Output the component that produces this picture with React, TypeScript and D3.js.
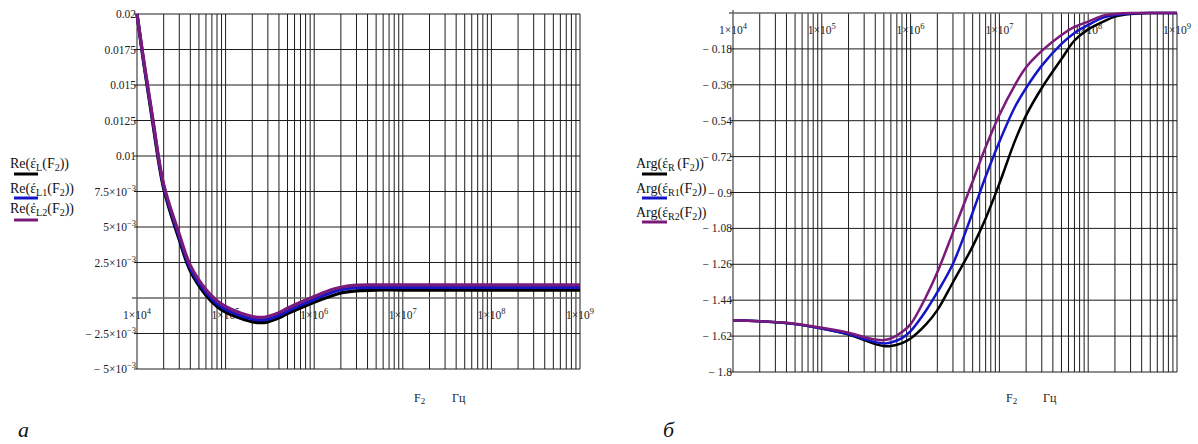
import React from "react";
import * as d3 from "d3";

// ---------- data: left chart (Re) ----------
const freqL = [1e4, 1.2e4, 1.5e4, 2e4, 3e4, 4e4, 6e4, 8e4, 1e5, 1.5e5, 2e5, 2.5e5, 3e5, 4e5, 5e5, 7e5, 1e6, 1.5e6, 2e6, 3e6, 5e6, 1e7, 1e8, 1e9];
const reL = [0.02, 0.0164, 0.0124, 0.0077, 0.0041, 0.0019, 0.0002, -0.0006, -0.001, -0.00145, -0.00168, -0.00174, -0.00168, -0.0014, -0.0011, -0.0007, -0.0003, 0.0001, 0.00035, 0.0005, 0.00056, 0.00056, 0.00056, 0.00056];
const reL1 = [0.02, 0.0165, 0.0126, 0.0079, 0.0043, 0.0021, 0.0004, -0.0004, -0.0008, -0.00125, -0.00148, -0.00155, -0.0015, -0.00122, -0.00092, -0.0005, -0.0001, 0.00035, 0.00058, 0.00072, 0.00075, 0.00075, 0.00075, 0.00075];
const reL2 = [0.02, 0.0166, 0.0127, 0.008, 0.0045, 0.0023, 0.0006, -0.0002, -0.0006, -0.00108, -0.0013, -0.00137, -0.0013, -0.00103, -0.00072, -0.0003, 0.0001, 0.00055, 0.00076, 0.0009, 0.00092, 0.00092, 0.00092, 0.00092];
const yTicksL = [0.02, 0.0175, 0.015, 0.0125, 0.01, 0.0075, 0.005, 0.0025, 0, -0.0025, -0.005];
const yLabelsL = ["0.02", "0.0175", "0.015", "0.0125", "0.01", "7.5×10|−3", "5×10|−3", "2.5×10|−3", "", "− 2.5×10|−3", "− 5×10|−3"];

// ---------- data: right chart (Arg) ----------
const freqR = [1e4, 2e4, 5e4, 1e5, 2e5, 3e5, 4e5, 5e5, 6e5, 8e5, 1e6, 1.5e6, 2e6, 3e6, 5e6, 7e6, 1e7, 1.5e7, 2e7, 3e7, 5e7, 7e7, 1e8, 1.5e8, 2e8, 3e8, 5e8, 1e9];
const argR = [-1.54, -1.545, -1.56, -1.582, -1.612, -1.64, -1.66, -1.67, -1.67, -1.655, -1.632, -1.56, -1.49, -1.35, -1.17, -1.03, -0.855, -0.64, -0.513, -0.376, -0.231, -0.138, -0.082, -0.042, -0.018, -0.005, 0, 0];
const argR1 = [-1.54, -1.545, -1.56, -1.582, -1.61, -1.635, -1.65, -1.657, -1.652, -1.63, -1.595, -1.49, -1.4, -1.257, -1.0, -0.82, -0.645, -0.47, -0.376, -0.264, -0.155, -0.1, -0.06, -0.022, -0.01, -0.002, 0, 0];
const argR2 = [-1.54, -1.545, -1.558, -1.578, -1.603, -1.625, -1.637, -1.64, -1.632, -1.6, -1.56, -1.42, -1.3, -1.1, -0.845, -0.672, -0.511, -0.36, -0.272, -0.19, -0.11, -0.07, -0.043, -0.012, -0.005, 0, 0, 0];
const yTicksR = [0, -0.18, -0.36, -0.54, -0.72, -0.9, -1.08, -1.26, -1.44, -1.62, -1.8];
const yLabelsR = ["", "− 0.18", "− 0.36", "− 0.54", "− 0.72", "− 0.9", "− 1.08", "− 1.26", "− 1.44", "− 1.62", "− 1.8"];

const xTicks = [1e4, 1e5, 1e6, 1e7, 1e8, 1e9];
const xLabels = ["1×10|4", "1×10|5", "1×10|6", "1×10|7", "1×10|8", "1×10|9"];

const COLORS = ["#000000", "#1515c8", "#7a1a7a"];
const FONT = "'Liberation Serif', 'Times New Roman', serif";
const GRID = "#1c1c1c";

function Sci({ x, y, label, anchor }: { x: number; y: number; label: string; anchor: string }) {
  const [base, exp] = label.split("|");
  return (
    <text x={x} y={y} textAnchor={anchor} fontFamily={FONT} fontSize={11.5} fill="#222">
      {base}
      {exp !== undefined && (
        <tspan dy={-5} fontSize={8.5}>
          {exp}
        </tspan>
      )}
    </text>
  );
}

function minorLogTicks(): number[] {
  const out: number[] = [];
  for (let n = 4; n < 9; n++) for (let k = 1; k <= 9; k++) out.push(k * Math.pow(10, n));
  out.push(1e9);
  return out;
}

function Legend({ x, y0, names, subs, lineX, lineYs }: any) {
  return (
    <g>
      {names.map((nm: string, i: number) => (
        <g key={i}>
          <text x={x} y={y0[i]} fontFamily={FONT} fontSize={14} fill="#111">
            {nm}(έ
            <tspan dy={3} fontSize={10}>{subs[i]}</tspan>
            <tspan dy={-3}>(F</tspan>
            <tspan dy={3} fontSize={10}>2</tspan>
            <tspan dy={-3}>))</tspan>
          </text>
          <line x1={lineX[0]} x2={lineX[1]} y1={lineYs[i]} y2={lineYs[i]} stroke={COLORS[i]} strokeWidth={3} />
        </g>
      ))}
    </g>
  );
}

export default function App() {
  const minors = minorLogTicks();

  // Left chart
  const xL = d3.scaleLog().domain([1e4, 1e9]).range([137, 580]);
  const yL = d3.scaleLinear().domain([-0.005, 0.02]).range([369, 14]);
  const lineL = d3
    .line<[number, number]>()
    .x((d) => xL(d[0]))
    .y((d) => yL(d[1]))
    .curve(d3.curveCatmullRom.alpha(0.5));
  const seriesL = [reL, reL1, reL2].map((s) => freqL.map((f, i) => [f, s[i]] as [number, number]));

  // Right chart
  const xR = d3.scaleLog().domain([1e4, 1e9]).range([733, 1177]);
  const yR = d3.scaleLinear().domain([-1.8, 0]).range([372, 13]);
  const lineR = d3
    .line<[number, number]>()
    .x((d) => xR(d[0]))
    .y((d) => yR(d[1]))
    .curve(d3.curveCatmullRom.alpha(0.5));
  const seriesR = [argR, argR1, argR2].map((s) => freqR.map((f, i) => [f, s[i]] as [number, number]));

  return (
    <svg width={1198} height={444} style={{ position: "absolute", left: 0, top: 0, background: "#fff" }}>
      {/* ----- left chart ----- */}
      <g>
        {minors.map((f, i) => (
          <line key={i} x1={xL(f)} x2={xL(f)} y1={yL(0.02)} y2={yL(-0.005)} stroke={GRID} strokeWidth={1} />
        ))}
        {yTicksL.map((v, i) => (
          <line key={i} x1={v === 0 ? 132 : 134} x2={580} y1={yL(v)} y2={yL(v)} stroke={v === 0 ? "#666" : GRID} strokeWidth={v === 0 ? 1.5 : 1} />
        ))}
        {yTicksL.map((v, i) =>
          yLabelsL[i] ? <Sci key={i} x={136} y={yL(v) + 4} label={yLabelsL[i]} anchor="end" /> : null
        )}
        {xTicks.map((f, i) => (
          <Sci key={i} x={xL(f)} y={yL(0) + 21} label={xLabels[i]} anchor="middle" />
        ))}
        {seriesL.map((s, i) => (
          <path key={i} d={lineL(s) || ""} fill="none" stroke={COLORS[i]} strokeWidth={3.2} />
        ))}
        <Legend
          x={10}
          y0={[168, 193, 213]}
          names={["Re", "Re", "Re"]}
          subs={["L", "L1", "L2"]}
          lineX={[14, 38]}
          lineYs={[174, 198, 220]}
        />
        <text x={414} y={402} fontFamily={FONT} fontSize={12} fill="#222">
          F
          <tspan dy={2} fontSize={9}>2</tspan>
        </text>
        <text x={452} y={402} fontFamily={FONT} fontSize={12} fill="#222">Гц</text>
        <text x={18} y={437} fontFamily={FONT} fontSize={22} fontStyle="italic" fill="#111">а</text>
      </g>

      {/* ----- right chart ----- */}
      <g>
        {minors.map((f, i) => (
          <line key={i} x1={xR(f)} x2={xR(f)} y1={i === 0 ? 10 : yR(0)} y2={yR(-1.8)} stroke={GRID} strokeWidth={1} />
        ))}
        {yTicksR.map((v, i) => (
          <line key={i} x1={v === 0 ? 729 : 730} x2={1177} y1={yR(v)} y2={yR(v)} stroke={v === 0 ? "#666" : GRID} strokeWidth={v === 0 ? 1.5 : 1} />
        ))}
        {yTicksR.map((v, i) =>
          yLabelsR[i] ? (
            <text key={i} x={732} y={yR(v) + 4} textAnchor="end" fontFamily={FONT} fontSize={11.5} fill="#222">
              {yLabelsR[i]}
            </text>
          ) : null
        )}
        {xTicks.map((f, i) => (
          <Sci key={i} x={xR(f)} y={yR(0) + 21} label={xLabels[i]} anchor="middle" />
        ))}
        {seriesR.map((s, i) => (
          <path key={i} d={lineR(s) || ""} fill="none" stroke={COLORS[i]} strokeWidth={2.5} />
        ))}
        <Legend
          x={636}
          y0={[168, 193, 217]}
          names={["Arg", "Arg", "Arg"]}
          subs={["R ", "R1", "R2"]}
          lineX={[642, 667]}
          lineYs={[174, 198, 222]}
        />
        <text x={1006} y={402} fontFamily={FONT} fontSize={12} fill="#222">
          F
          <tspan dy={2} fontSize={9}>2</tspan>
        </text>
        <text x={1043} y={402} fontFamily={FONT} fontSize={12} fill="#222">Гц</text>
        <text x={663} y={437} fontFamily={FONT} fontSize={22} fontStyle="italic" fill="#111">б</text>
      </g>
    </svg>
  );
}
